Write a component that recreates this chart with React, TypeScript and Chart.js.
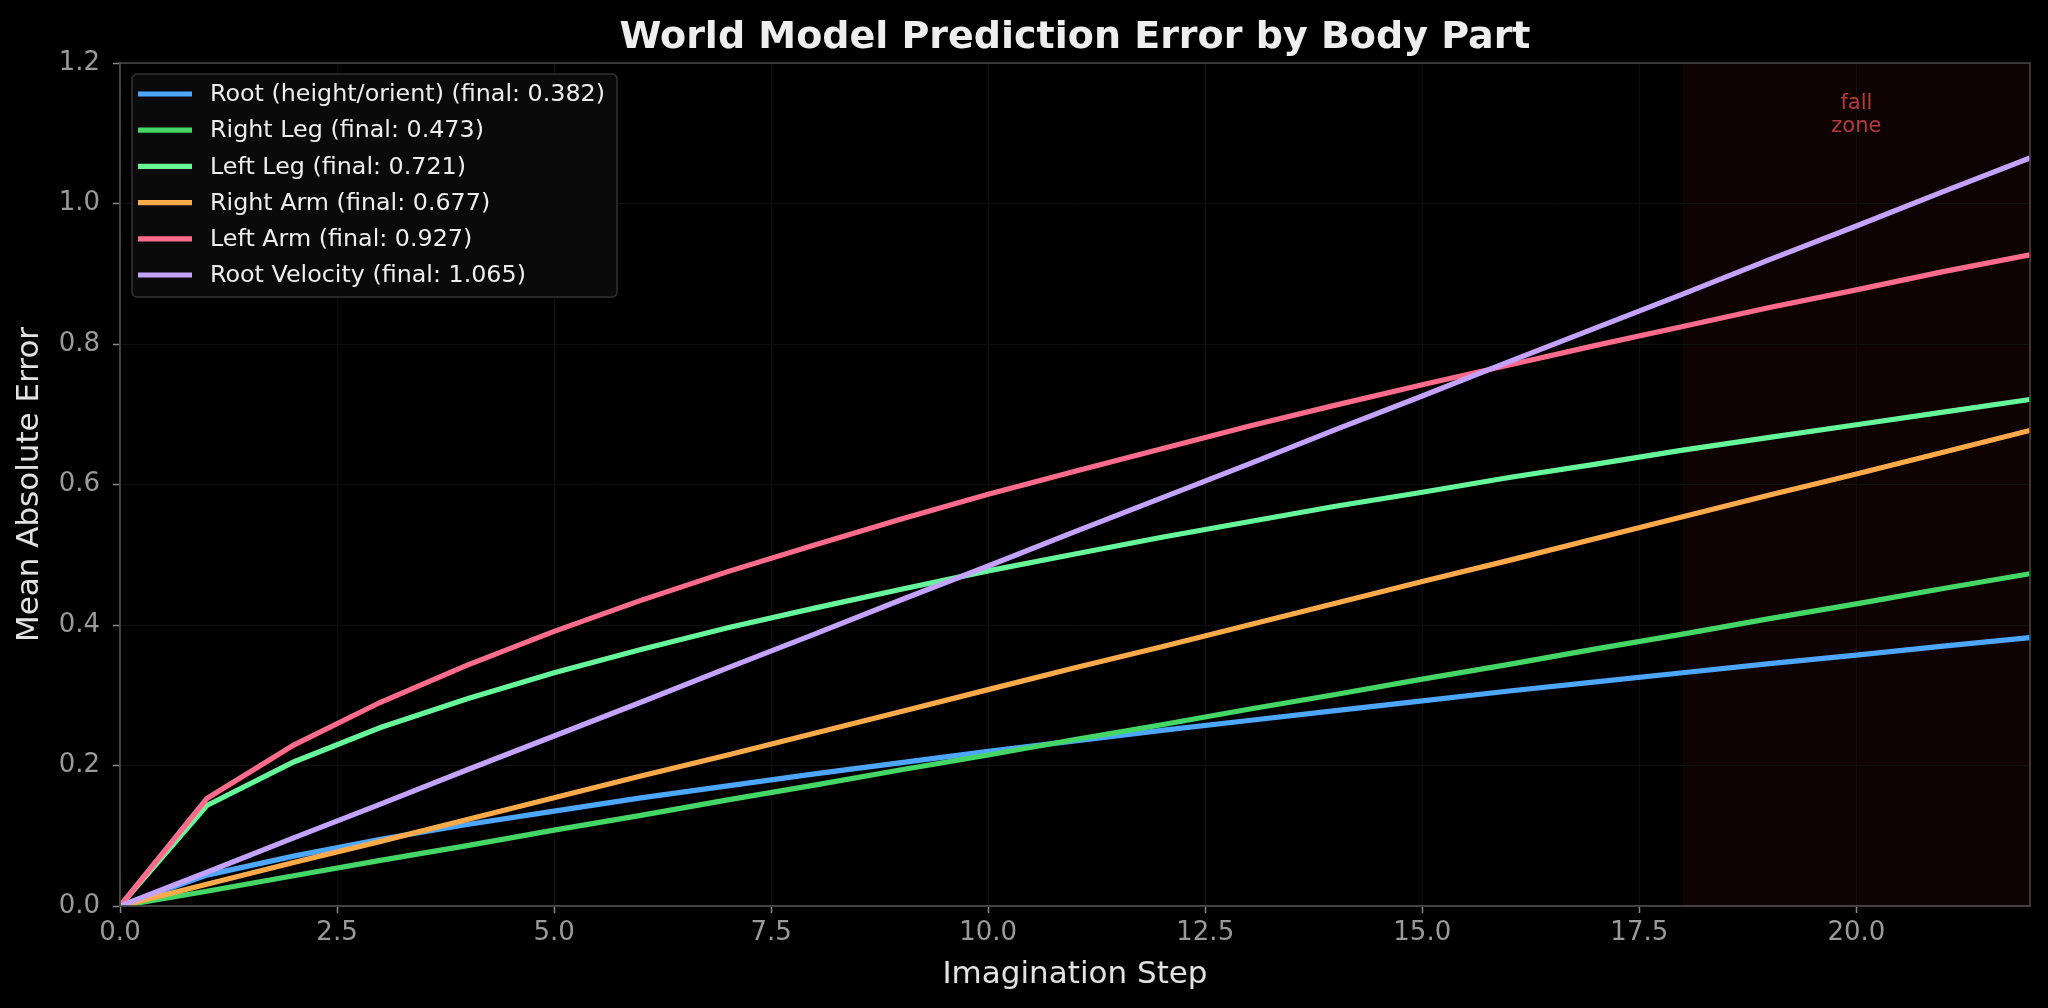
import React, { useEffect, useRef } from "react";
import { Chart, registerables } from "chart.js";

Chart.register(...registerables);

// ---------- data ----------
const steps = [0, 1, 2, 3, 4, 5, 6, 7, 8, 9, 10, 11, 12, 13, 14, 15, 16, 17, 18, 19, 20, 21, 22];

const rootHeightOrient = [0, 0.044, 0.071, 0.095, 0.116, 0.135, 0.154, 0.171, 0.188, 0.204, 0.22, 0.235, 0.25, 0.264, 0.278, 0.292, 0.306, 0.319, 0.332, 0.345, 0.357, 0.37, 0.382];
const rightLeg = [0, 0.021, 0.043, 0.065, 0.086, 0.108, 0.129, 0.151, 0.172, 0.194, 0.215, 0.237, 0.258, 0.28, 0.301, 0.323, 0.344, 0.366, 0.387, 0.409, 0.43, 0.452, 0.473];
const leftLeg = [0, 0.143, 0.205, 0.254, 0.295, 0.332, 0.365, 0.396, 0.424, 0.451, 0.477, 0.501, 0.525, 0.547, 0.569, 0.589, 0.61, 0.629, 0.649, 0.667, 0.685, 0.703, 0.721];
const rightArm = [0, 0.031, 0.062, 0.092, 0.123, 0.154, 0.185, 0.215, 0.246, 0.277, 0.308, 0.339, 0.369, 0.4, 0.431, 0.462, 0.492, 0.523, 0.554, 0.585, 0.615, 0.646, 0.677];
const leftArm = [0, 0.153, 0.229, 0.29, 0.343, 0.391, 0.435, 0.476, 0.514, 0.551, 0.586, 0.619, 0.651, 0.683, 0.713, 0.742, 0.77, 0.798, 0.825, 0.852, 0.877, 0.903, 0.927];
const rootVelocity = [0, 0.048, 0.097, 0.145, 0.194, 0.242, 0.29, 0.339, 0.387, 0.436, 0.484, 0.533, 0.581, 0.629, 0.678, 0.726, 0.775, 0.823, 0.871, 0.92, 0.968, 1.017, 1.065];

const seriesNames = ["Root (height/orient)", "Right Leg", "Left Leg", "Right Arm", "Left Arm", "Root Velocity"];
const seriesFinals = [0.382, 0.473, 0.721, 0.677, 0.927, 1.065];
const seriesValues = [rootHeightOrient, rightLeg, leftLeg, rightArm, leftArm, rootVelocity];
const seriesColors = ["#4da6ff", "#44d765", "#66f79a", "#ffaa4a", "#ff6b8b", "#c4a2ff"];

const xMin = 0;
const xMax = 22;
const xStep = 2.5;
const yMin = 0;
const yMax = 1.2;
const yStep = 0.2;

const fallZoneStart = 18;
const fallZoneEnd = 22;
const fallZoneLabel = ["fall", "zone"];
const fallZoneLabelX = 20;

const chartTitle = "World Model Prediction Error by Body Part";
const xTitle = "Imagination Step";
const yTitle = "Mean Absolute Error";

const FONT = "'DejaVu Sans', sans-serif";

const decorPlugin = {
  id: "decor",
  beforeDraw(chart: any) {
    const { ctx, chartArea, scales } = chart;
    ctx.save();
    ctx.fillStyle = "#000000";
    ctx.fillRect(0, 0, chart.width, chart.height);
    const x0 = scales.x.getPixelForValue(fallZoneStart);
    const x1 = scales.x.getPixelForValue(fallZoneEnd);
    ctx.fillStyle = "#0e0302";
    ctx.fillRect(x0, chartArea.top, x1 - x0, chartArea.bottom - chartArea.top);
    ctx.restore();
  },
  afterDatasetsDraw(chart: any) {
    const { ctx, chartArea, scales } = chart;
    ctx.save();
    // spines
    ctx.strokeStyle = "#454545";
    ctx.lineWidth = 1.6;
    ctx.strokeRect(chartArea.left, chartArea.top, chartArea.right - chartArea.left, chartArea.bottom - chartArea.top);

    // fall zone label
    ctx.fillStyle = "#b8393b";
    ctx.font = `21px ${FONT}`;
    ctx.textAlign = "center";
    ctx.textBaseline = "alphabetic";
    const fx = scales.x.getPixelForValue(fallZoneLabelX);
    ctx.fillText(fallZoneLabel[0], fx, 109);
    ctx.fillText(fallZoneLabel[1], fx, 132);

    // title
    ctx.fillStyle = "#eeeeee";
    ctx.font = `bold 38px ${FONT}`;
    ctx.textAlign = "center";
    ctx.fillText(chartTitle, (chartArea.left + chartArea.right) / 2, 48);

    // legend
    const lx = 132, ly = 74, lw = 485, lh = 223;
    ctx.beginPath();
    const r = 5;
    ctx.moveTo(lx + r, ly);
    ctx.arcTo(lx + lw, ly, lx + lw, ly + lh, r);
    ctx.arcTo(lx + lw, ly + lh, lx, ly + lh, r);
    ctx.arcTo(lx, ly + lh, lx, ly, r);
    ctx.arcTo(lx, ly, lx + lw, ly, r);
    ctx.closePath();
    ctx.fillStyle = "rgba(11,11,11,0.95)";
    ctx.fill();
    ctx.strokeStyle = "#333333";
    ctx.lineWidth = 1.5;
    ctx.stroke();

    ctx.font = `23.8px ${FONT}`;
    ctx.textAlign = "left";
    ctx.textBaseline = "middle";
    chart.data.datasets.forEach((ds: any, i: number) => {
      const cy = 94 + i * 36.2;
      ctx.strokeStyle = ds.borderColor;
      ctx.lineWidth = 5.2;
      ctx.lineCap = "butt";
      ctx.beginPath();
      ctx.moveTo(138, cy);
      ctx.lineTo(192, cy);
      ctx.stroke();
      ctx.fillStyle = "#eeeeee";
      ctx.fillText(ds.label, 210, cy + 1);
    });
    ctx.restore();
  },
};

export default function App() {
  const ref = useRef<HTMLCanvasElement | null>(null);

  useEffect(() => {
    if (!ref.current) return;
    Chart.defaults.font.family = FONT;
    const datasets = seriesValues.map((vals, i) => ({
      label: `${seriesNames[i]} (final: ${seriesFinals[i].toFixed(3)})`,
      data: steps.map((s, j) => ({ x: s, y: vals[j] })),
      borderColor: seriesColors[i],
      backgroundColor: seriesColors[i],
      borderWidth: 5.2,
      pointRadius: 0,
      tension: 0,
      fill: false,
      order: seriesValues.length - i,
    }));

    const chart = new Chart(ref.current, {
      type: "line",
      data: { datasets },
      options: {
        animation: false,
        responsive: false,
        devicePixelRatio: 1,
        layout: { padding: { top: 63, right: 18, left: 0, bottom: 0 } },
        plugins: {
          legend: { display: false },
          tooltip: { enabled: false },
          title: { display: false },
        },
        scales: {
          x: {
            type: "linear",
            min: xMin,
            max: xMax,
            afterFit: (scale: any) => {
              scale.height = 102;
            },
            ticks: {
              stepSize: xStep,
              includeBounds: false,
              autoSkip: false,
              maxRotation: 0,
              color: "#9a9a9a",
              font: { size: 26, family: FONT },
              padding: 5,
              callback: (v: any) => Number(v).toFixed(1),
            },
            grid: {
              color: "#0f0f0f",
              lineWidth: 1,
              tickLength: 7,
              tickColor: "#8a8a8a",
              tickWidth: 1.5,
            },
            border: { display: true, color: "#454545", width: 1.6 },
            title: {
              display: true,
              text: xTitle,
              color: "#e2e2e2",
              font: { size: 31, family: FONT },
              padding: { top: 0, bottom: 14 },
            },
          },
          y: {
            type: "linear",
            min: yMin,
            max: yMax,
            afterFit: (scale: any) => {
              scale.width = 120;
            },
            ticks: {
              stepSize: yStep,
              includeBounds: false,
              color: "#9a9a9a",
              font: { size: 26, family: FONT },
              padding: 13,
              callback: (v: any) => Number(v).toFixed(1),
            },
            grid: {
              color: "#0f0f0f",
              lineWidth: 1,
              tickLength: 7,
              tickColor: "#8a8a8a",
              tickWidth: 1.5,
            },
            border: { display: true, color: "#454545", width: 1.6 },
            title: {
              display: true,
              text: yTitle,
              color: "#e2e2e2",
              font: { size: 31, family: FONT },
              padding: { top: 11, bottom: 0 },
            },
          },
        },
      },
      plugins: [decorPlugin],
    });
    return () => chart.destroy();
  }, []);

  return (
    <div style={{ position: "fixed", left: 0, top: 0, width: 2048, height: 1008, background: "#000" }}>
      <canvas ref={ref} width={2048} height={1008} style={{ display: "block", width: 2048, height: 1008 }} />
    </div>
  );
}
